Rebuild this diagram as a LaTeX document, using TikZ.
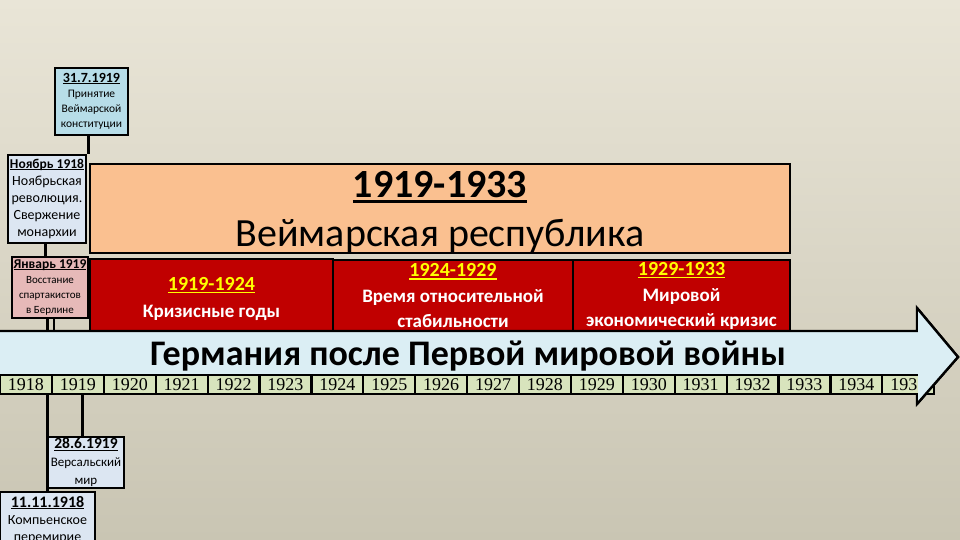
\documentclass[tikz,border=0pt]{standalone}
\usepackage{fontspec}
\setmainfont{Carlito}
\newfontfamily\yrfont{Liberation Serif}
\definecolor{bgtop}{HTML}{E9E5D7}
\definecolor{bgbot}{HTML}{C9C5B3}
\definecolor{aquabox}{HTML}{B7DDE8}
\definecolor{paleblue}{HTML}{DCE6F2}
\definecolor{palepink}{HTML}{E6B9B8}
\definecolor{peach}{HTML}{FAC090}
\definecolor{darkred}{HTML}{C00000}
\definecolor{arrowblue}{HTML}{DBEEF4}
\definecolor{cellgreen}{HTML}{D8E4BD}
\definecolor{ytitle}{HTML}{FFFF00}
\tikzset{
  evbox/.style={draw=black, line width=2.4pt, inner sep=0pt, align=center},
  redbox/.style={evbox, fill=darkred, text=white},
  yrcell/.style={draw=black, line width=2.2pt, fill=cellgreen, inner sep=0pt,
    minimum width=51.9pt, minimum height=19pt, font=\yrfont\fontsize{18}{18}\selectfont},
  link/.style={draw=black, line width=3pt},
  arrowshape/.style={draw=black, line width=2.4pt, fill=arrowblue, line join=miter}
}
\newsavebox{\ulbox}
\newcommand{\ulword}[1]{\sbox{\ulbox}{#1}\rlap{\rule[-0.13em]{\wd\ulbox}{0.075em}}\usebox{\ulbox}}
\newcommand{\ttl}[2]{{\fontsize{#1}{#1}\selectfont\bfseries\ulword{#2}}}
\begin{document}
\begin{tikzpicture}[x=1pt,y=-1pt]
\useasboundingbox (0,0) rectangle (960,540);
\clip (0,0) rectangle (960,540);
\shade[top color=bgtop, bottom color=bgbot] (0,0) rectangle (960,540);

% helper x positions
\coordinate (x45) at (45,0);
\coordinate (x47) at (47,0);
\coordinate (x54) at (54,0);
\coordinate (x82) at (82,0);
\coordinate (x88) at (88,0);
\coordinate (arrtop) at (0,330);

% upper event boxes
\node[evbox, fill=aquabox, minimum width=73pt, minimum height=67pt,
  font=\fontsize{11.5}{15}\selectfont] (b317) at (91.5,101.5)
  {\ttl{14}{31.7.1919}\\Принятие\\Веймарской\\конституции};
\node[evbox, fill=paleblue, minimum width=78pt, minimum height=88pt,
  font=\fontsize{14}{17}\selectfont] (nov) at (47,199)
  {\ttl{13.5}{Ноябрь 1918}\\Ноябрьская\\революция.\\Свержение\\монархии};
\node[evbox, fill=palepink, minimum width=76pt, minimum height=61pt,
  font=\fontsize{11}{15}\selectfont] (jan) at (50,287.5)
  {\ttl{13.5}{Январь 1919}\\Восстание\\спартакистов\\в Берлине};

\draw[link] (b317.south -| x88) -- (nov.north -| x88);
\draw[link] (nov.south -| x45) -- (jan.north -| x45);
\draw[link] (jan.south -| x47) -- (x47 |- arrtop);
\draw[link, line width=2pt] (jan.south -| x54) -- (x54 |- arrtop);

% Weimar republic
\node[evbox, fill=peach, minimum width=700pt, minimum height=87pt,
  font=\fontsize{40}{49}\selectfont] (weimar) at (440,208.5)
  {\rule{0pt}{34pt}\ttl{40}{1919-1933}\\Веймарская республика};

% periods
\node[redbox, minimum width=243pt, minimum height=72pt,
  font=\fontsize{19}{27}\selectfont\bfseries] (p1) at (211.5,295)
  {\rule{0pt}{21pt}\textcolor{ytitle}{\ttl{20}{1919-1924}}\\Кризисные годы};
\node[redbox, minimum width=240pt, minimum height=72pt,
  font=\fontsize{19}{25.5}\selectfont\bfseries] (p2) at (453,296)
  {\textcolor{ytitle}{\ttl{20}{1924-1929}}\\Время относительной\\стабильности};
\node[redbox, minimum width=217pt, minimum height=72pt,
  font=\fontsize{19}{25.5}\selectfont\bfseries] (p3) at (681.5,296)
  {\textcolor{ytitle}{\ttl{20}{1929-1933}}\\Мировой\\экономический кризис};

% timeline arrow
\path[arrowshape] (-5,331) -- (917,331) -- (917,308) -- (958,357) -- (917,404)
  -- (917,384) -- (-5,384) -- cycle;

% year cells
\foreach \yr [count=\i from 0] in {1918,1919,1920,1921,1922,1923,1924,1925,1926,
  1927,1928,1929,1930,1931,1932,1933,1934,1935} {
  \node[yrcell] (c\yr) at ({25.95+51.9*\i},384.5) {\yr};
}

% arrow head drawn over the last cell
\begin{scope}
  \clip (918.2,300) rectangle (970,420);
  \path[fill=arrowblue] (917,308) -- (958,357) -- (917,404) -- cycle;
\end{scope}
\draw[black, line width=2.4pt, line join=miter] (917,308) -- (958,357) -- (917,404);

\node[font=\fontsize{36}{36}\selectfont\bfseries] (title) at (468,356)
  {Германия после Первой мировой войны};

% lower event boxes
\node[evbox, fill=paleblue, minimum width=76pt, minimum height=51pt,
  font=\fontsize{13}{18}\selectfont] (b286) at (86,462.5)
  {\ttl{15.5}{28.6.1919}\\Версальский\\мир};
\node[evbox, fill=paleblue, minimum width=95pt, minimum height=56pt,
  font=\fontsize{14}{17}\selectfont] (b1111) at (47.5,520)
  {\ttl{16}{11.11.1918}\\Компьенское\\перемирие};

\draw[link] (c1918.south -| x47) -- (b1111.north -| x47);
\draw[link] (c1919.south -| x82) -- (b286.north -| x82);
\end{tikzpicture}
\end{document}
